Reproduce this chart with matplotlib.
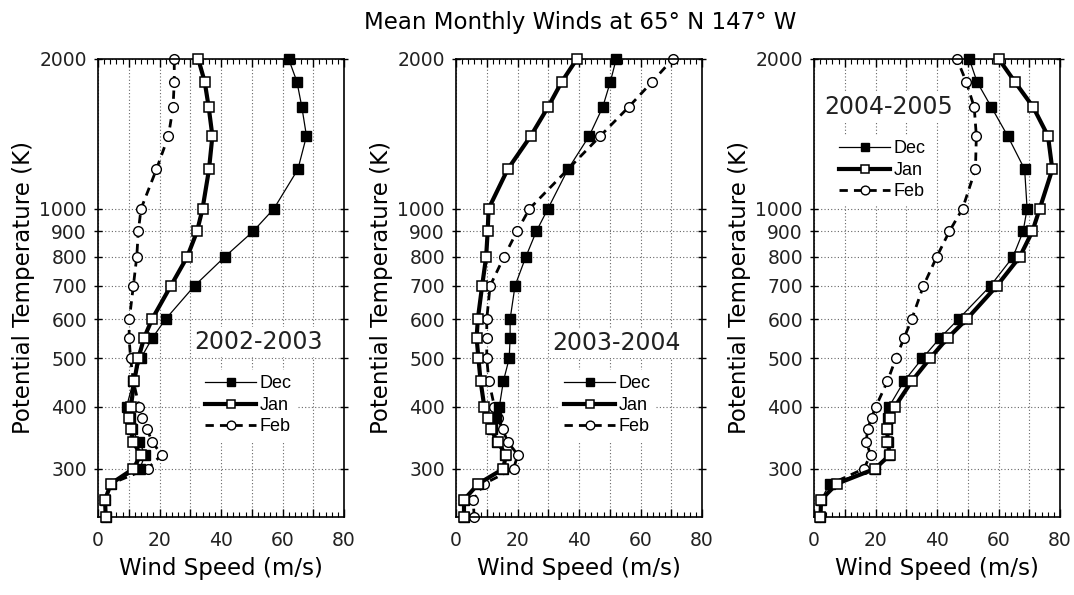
import numpy as np
import matplotlib
matplotlib.use('Agg')
import matplotlib.pyplot as plt
from matplotlib.ticker import MultipleLocator, FixedLocator, NullLocator, FuncFormatter

# niveles de temperatura potencial (K)
theta = [240, 260, 280, 300, 320, 340, 360, 380, 400, 450, 500, 550, 600,
         700, 800, 900, 1000, 1200, 1400, 1600, 1800, 2000]

years = ['2002-2003', '2003-2004', '2004-2005']

# vientos (m/s) de abajo hacia arriba
dec_0203 = [2.5, 2.3, 4.2, 13.6, 15.3, 13.4, 10.9, 10.4, 9.3, 11.5, 13.9, 17.7, 22,
            31.4, 41.2, 50.4, 57.2, 65, 67.8, 66.3, 64.7, 62]
jan_0203 = [2.5, 2.3, 4.2, 11.5, 13.9, 11.5, 10.6, 10.2, 10.7, 11.8, 13.1, 15, 17.6,
            23.7, 29, 32.2, 34, 36.1, 37.2, 36, 34.7, 32.6]
feb_0203 = [2.5, 2.3, 4.2, 16.1, 20.7, 17.6, 16, 14.2, 13.4, 11.5, 10.6, 10.1, 10.2,
            11.5, 12.6, 13.1, 14, 19, 22.9, 24.4, 24.8, 24.8]

dec_0304 = [2.6, 2.6, 7.3, 15.4, 16, 13.3, 11.6, 13, 14.1, 15.4, 17.3, 17.6, 17.6,
            19.2, 22.7, 26.1, 29.9, 36.4, 43.3, 47.7, 50.2, 52.1]
jan_0304 = [2.6, 2.6, 7.3, 15.4, 16.2, 13.5, 11.4, 10.3, 9.2, 8, 7.3, 6.7, 7.1,
            8.5, 9.8, 10.3, 10.6, 16.8, 24.3, 29.9, 34.4, 39.3]
feb_0304 = [5.9, 5.6, 9.2, 18.7, 20.1, 16.8, 15.2, 13.5, 12.5, 10.7, 10, 10, 10,
            11.1, 15.6, 19.8, 23.9, 36.4, 46.9, 56.1, 63.8, 70.5]

dec_0405 = [2.1, 2.3, 5.1, 19.8, 24.4, 24.1, 23.8, 24.1, 24.4, 29.3, 35.2, 41, 47,
            57.4, 64.7, 68, 69.3, 68.5, 63, 57.7, 53, 50.5]
jan_0405 = [2.1, 2.3, 7.5, 19.8, 24.7, 23.9, 23.9, 24.7, 26.3, 31.8, 37.7, 43.5, 49.7,
            59.5, 66.9, 71, 73.4, 77.5, 76.1, 71.3, 65.3, 60.1]
feb_0405 = [2.1, 2.3, 5.6, 16.2, 18.4, 17, 17.4, 18.7, 20.1, 23.9, 26.6, 29.3, 31.8,
            35.6, 39.9, 44, 48.3, 52.5, 52.8, 52.1, 49.5, 46.5]

ytick_vals = [300, 400, 500, 600, 700, 800, 900, 1000, 2000]

datos = [(dec_0203, jan_0203, feb_0203),
         (dec_0304, jan_0304, feb_0304),
         (dec_0405, jan_0405, feb_0405)]

W, H = 1074, 595
fig = plt.figure(figsize=(W / 100, H / 100), dpi=100)
fig.text(580 / W, 1 - 22 / H, 'Mean Monthly Winds at 65° N 147° W',
         ha='center', va='center', fontsize=16.5)

lefts = [98, 456, 814]
year_pos = [(259, 342), (617, 343), (889, 107)]
leg_pos = [(200, 370), (559, 370), (834, 135)]

for i in range(3):
    ax = fig.add_axes([lefts[i] / W, (H - 517) / H, 246 / W, 458 / H])
    dec, jan, feb = datos[i]
    ax.plot(dec, theta, '-', color='black', lw=0.9, marker='s', ms=7,
            mfc='black', mec='black', mew=1, label='Dec', zorder=3, clip_on=False)
    ax.plot(jan, theta, '-', color='black', lw=3, marker='s', ms=7,
            mfc='white', mec='black', mew=1.1, label='Jan', zorder=4, clip_on=False)
    ax.plot(feb, theta, '--', color='black', lw=2, dashes=(3, 2.2), marker='o', ms=7,
            mfc='white', mec='black', mew=1, label='Feb', zorder=2, clip_on=False)

    ax.set_yscale('log')
    ax.set_ylim(240, 2000)
    ax.set_xlim(0, 80)
    ax.yaxis.set_major_locator(FixedLocator(ytick_vals))
    ax.yaxis.set_minor_locator(NullLocator())
    ax.yaxis.set_major_formatter(FuncFormatter(lambda v, p: '%d' % v))
    ax.xaxis.set_major_locator(MultipleLocator(10))
    ax.xaxis.set_minor_locator(MultipleLocator(2))
    ax.xaxis.set_major_formatter(FuncFormatter(lambda v, p: '%d' % v if v % 20 == 0 else ''))
    ax.tick_params(axis='x', which='major', direction='in', length=6, width=1,
                   top=True, labelsize=13.5, pad=10, colors='black', labelcolor='#222222')
    ax.tick_params(axis='x', which='minor', direction='in', length=3.5, width=0.8, top=True)
    ax.tick_params(axis='y', which='major', direction='inout', length=6, width=1,
                   right=True, labelsize=13.5, pad=5, labelcolor='#222222')
    ax.grid(True, which='major', linestyle=(0, (1, 2)), color='#666666', lw=0.8)
    for s in ax.spines.values():
        s.set_linewidth(1.2)

    ax.set_xlabel('Wind Speed (m/s)', fontsize=16.5, labelpad=5)
    ax.set_ylabel('Potential Temperature (K)', fontsize=16.5, labelpad=3)

    tx, ty = year_pos[i]
    ax.text(tx / W, 1 - ty / H, years[i], transform=fig.transFigure,
            ha='center', va='center', fontsize=17, color='#222222', zorder=6,
            bbox=dict(facecolor='white', edgecolor='none', pad=2))
    lx, ly = leg_pos[i]
    leg = ax.legend(loc='upper left', bbox_to_anchor=(lx / W, 1 - ly / H),
                    bbox_transform=fig.transFigure, frameon=True, framealpha=1,
                    edgecolor='none', handlelength=2.8, handletextpad=0.2,
                    labelspacing=0.25, borderpad=0.3, borderaxespad=0, markerscale=0.9,
                    prop={'family': 'Liberation Sans', 'size': 13})
    leg.set_zorder(6)

fig.savefig('out.png', dpi=100)
